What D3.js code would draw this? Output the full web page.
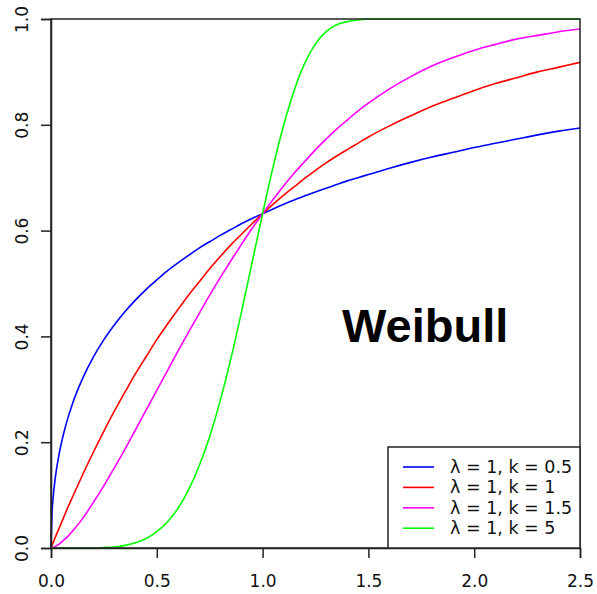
<!DOCTYPE html>
<html>
<head>
<meta charset="utf-8">
<script src="https://cdn.jsdelivr.net/npm/d3@7"></script>
<style>
  body { margin: 0; background: #fff; }
  svg { display: block; }
</style>
</head>
<body>
<div id="viz"></div>
<script>
// sample positions along x
var xs = [0, 0.005, 0.01, 0.02, 0.04, 0.06, 0.08, 0.10, 0.15, 0.20, 0.25, 0.30, 0.35, 0.40, 0.45,
  0.50, 0.55, 0.60, 0.65, 0.70, 0.75, 0.80, 0.85, 0.90, 0.95, 1.00, 1.05, 1.10, 1.15, 1.20,
  1.25, 1.30, 1.35, 1.40, 1.45, 1.50, 1.60, 1.70, 1.80, 1.90, 2.00, 2.10, 2.20, 2.30, 2.40, 2.50];

var blueK05 = [0, 0.068, 0.095, 0.132, 0.181, 0.217, 0.246, 0.271, 0.321, 0.361, 0.394, 0.422, 0.447, 0.469, 0.489,
  0.507, 0.524, 0.539, 0.553, 0.567, 0.579, 0.591, 0.602, 0.613, 0.623, 0.632, 0.641, 0.650, 0.658, 0.666,
  0.673, 0.680, 0.687, 0.694, 0.700, 0.706, 0.718, 0.729, 0.739, 0.748, 0.757, 0.765, 0.773, 0.781, 0.788, 0.794];

var redK1 = [0, 0.005, 0.010, 0.020, 0.039, 0.058, 0.077, 0.095, 0.139, 0.181, 0.221, 0.259, 0.295, 0.330, 0.362,
  0.394, 0.423, 0.451, 0.478, 0.503, 0.528, 0.551, 0.573, 0.593, 0.613, 0.632, 0.650, 0.667, 0.683, 0.699,
  0.714, 0.728, 0.741, 0.753, 0.765, 0.777, 0.798, 0.817, 0.835, 0.850, 0.865, 0.878, 0.889, 0.900, 0.909, 0.918];

var magentaK15 = [0, 0.000, 0.001, 0.003, 0.008, 0.015, 0.022, 0.031, 0.056, 0.086, 0.118, 0.152, 0.187, 0.224, 0.261,
  0.298, 0.335, 0.372, 0.408, 0.443, 0.478, 0.511, 0.543, 0.574, 0.604, 0.632, 0.659, 0.685, 0.709, 0.731,
  0.753, 0.773, 0.792, 0.809, 0.826, 0.841, 0.868, 0.891, 0.911, 0.927, 0.941, 0.952, 0.962, 0.969, 0.976, 0.981];

var greenK5 = [0, 0, 0, 0, 0, 0, 0, 0, 0.000, 0.000, 0.001, 0.002, 0.005, 0.010, 0.018,
  0.031, 0.049, 0.075, 0.110, 0.155, 0.211, 0.279, 0.358, 0.446, 0.539, 0.632, 0.721, 0.800, 0.866, 0.917,
  0.953, 0.976, 0.989, 0.995, 0.998, 1.000, 1.000, 1.000, 1.000, 1.000, 1.000, 1.000, 1.000, 1.000, 1.000, 1.000];

var seriesNames = ['\u03bb = 1, k = 0.5', '\u03bb = 1, k = 1', '\u03bb = 1, k = 1.5', '\u03bb = 1, k = 5'];
var seriesColors = ['#0000ff', '#ff0000', '#ff00ff', '#00ff00'];
var seriesValues = [blueK05, redK1, magentaK15, greenK5];

var xTicks = [0, 0.5, 1.0, 1.5, 2.0, 2.5];
var yTicks = [0, 0.2, 0.4, 0.6, 0.8, 1.0];

var W = 597, H = 594;
var M = {left: 51, right: 580, top: 19, bottom: 548};

var svg = d3.select("#viz").append("svg")
    .attr("width", W)
    .attr("height", H);

var x = d3.scaleLinear().domain([0, 2.5]).range([M.left, M.right]);
var y = d3.scaleLinear().domain([0, 1]).range([M.bottom, M.top]);

var line = d3.line()
    .x(function(d) { return x(d[0]); })
    .y(function(d) { return y(d[1]); })
    .curve(d3.curveMonotoneX);

// curves
seriesValues.forEach(function(vals, i) {
  svg.append("path")
      .datum(xs.map(function(xv, j) { return [xv, vals[j]]; }))
      .attr("fill", "none")
      .attr("stroke", seriesColors[i])
      .attr("stroke-width", 1.6)
      .attr("d", line);
});

// box
svg.append("rect")
    .attr("x", M.left).attr("y", M.top)
    .attr("width", M.right - M.left).attr("height", M.bottom - M.top)
    .attr("fill", "none")
    .attr("stroke", "#222")
    .attr("stroke-width", 1.5);

// axes
var xAxis = d3.axisBottom(x).tickValues(xTicks).tickSize(10).tickPadding(8)
    .tickFormat(d3.format(".1f"));
var yAxis = d3.axisLeft(y).tickValues(yTicks).tickSize(10).tickPadding(8)
    .tickFormat(d3.format(".1f"));

var gx = svg.append("g").attr("transform", "translate(0," + M.bottom + ")").call(xAxis);
var gy = svg.append("g").attr("transform", "translate(" + M.left + ",0)").call(yAxis);

[gx, gy].forEach(function(g) {
  g.select(".domain").attr("stroke", "#222").attr("stroke-width", 1.5);
  g.selectAll(".tick line").attr("stroke", "#222").attr("stroke-width", 1.5);
  g.selectAll("text")
      .attr("font-family", "DejaVu Sans")
      .attr("font-size", 17)
      .attr("fill", "#111");
});

gx.selectAll("text").attr("dy", "1.25em");

gy.selectAll(".tick text")
    .attr("text-anchor", "middle")
    .attr("dy", 0)
    .attr("x", 0)
    .attr("transform", "translate(-23,0) rotate(-90)");

// title
svg.append("text")
    .attr("x", 342)
    .attr("y", 342)
    .attr("font-family", "Liberation Sans, Arial, sans-serif")
    .attr("font-weight", "bold")
    .attr("font-size", 47)
    .attr("fill", "#000")
    .text("Weibull");

// legend
var legend = svg.append("g");
legend.append("rect")
    .attr("x", 388).attr("y", 447)
    .attr("width", M.right - 388).attr("height", M.bottom - 447)
    .attr("fill", "#fff")
    .attr("stroke", "#222")
    .attr("stroke-width", 1.5);

seriesNames.forEach(function(name, i) {
  var cy = 467 + i * 20.4;
  legend.append("line")
      .attr("x1", 403).attr("x2", 434)
      .attr("y1", cy).attr("y2", cy)
      .attr("stroke", seriesColors[i])
      .attr("stroke-width", 1.6);
  legend.append("text")
      .attr("x", 450)
      .attr("y", cy + 6)
      .attr("font-family", "DejaVu Sans")
      .attr("font-size", 17.5)
      .attr("fill", "#111")
      .text(name);
});
</script>
</body>
</html>
